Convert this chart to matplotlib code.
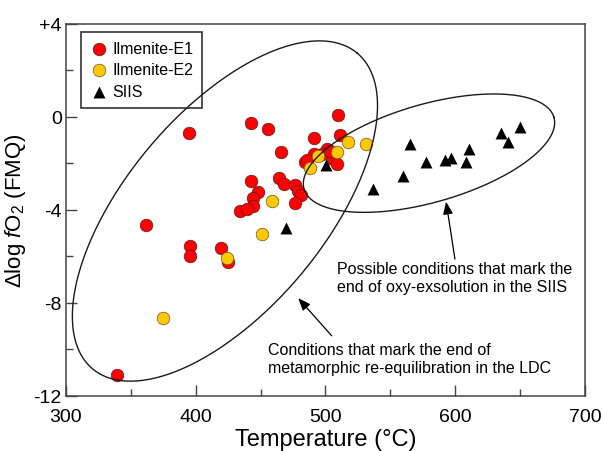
import numpy as np
import matplotlib
matplotlib.use("Agg")
import matplotlib.pyplot as plt
from matplotlib.ticker import MultipleLocator

plt.rcParams['font.family'] = ['Liberation Sans', 'DejaVu Sans']
plt.rcParams['mathtext.fontset'] = 'custom'
plt.rcParams['mathtext.rm'] = 'Liberation Sans'
plt.rcParams['mathtext.it'] = 'Liberation Sans:italic'

# Ilmenite-E1 (red)
e1_temp = [339, 362, 394.5, 395.6, 395.6, 419.7, 424.9, 442.6, 455.4, 465.7,
           491.1, 442.6, 447.7, 443.9, 443.9, 434.1, 439.3, 464.4, 468.0, 476.5,
           479.0, 480.9, 476.5, 484.2, 491.4, 509.9, 511.2, 500.9, 486.0, 506.0,
           508.6, 497.0, 503.5]
e1_fo2 = [-11.1, -4.66, -0.70, -5.55, -5.98, -5.66, -6.24, -0.24, -0.50, -1.50,
          -0.90, -2.77, -3.23, -3.51, -3.85, -4.03, -3.97, -2.65, -2.89, -2.94,
          -3.18, -3.37, -3.71, -1.94, -1.60, 0.09, -0.77, -1.39, -1.85, -1.82,
          -2.03, -1.60, -1.46]

# Ilmenite-E2 (yellow)
e2_temp = [375, 424, 451.3, 458.5, 488, 494, 509.1, 517.6, 531.2]
e2_fo2 = [-8.67, -6.09, -5.05, -3.64, -2.21, -1.68, -1.50, -1.07, -1.17]

# SIIS (triangles)
siis_temp = [469.6, 500.1, 536.8, 560.0, 565.1, 577.2, 592.1, 596.5, 608.0,
             610.6, 635.0, 640.9, 649.9]
siis_fo2 = [-4.76, -2.06, -3.11, -2.56, -1.17, -1.92, -1.85, -1.78, -1.96,
            -1.36, -0.70, -1.06, -0.44]

xticks = [300, 400, 500, 600, 700]
yticks = [4, 0, -4, -8, -12]
ytick_labels = ['+4', '0', '-4', '-8', '-12']

# ellipses: centre (degC, dlog), semi-axes in degC-equivalent, angle on screen
ldc_ell = (422.5, -4.05, 158.8, 76.3, 50.0)
siis_ell = (579.8, -1.56, 100.2, 37.8, 16.0)

fig = plt.figure(figsize=(6.03, 4.52), dpi=100)
ax = fig.add_axes([0.1095, 0.1223, 0.8605, 0.8224])
ax.set_xlim(300, 700)
ax.set_ylim(-12, 4)

ax.scatter(e1_temp, e1_fo2, s=82, c='#ff0000', edgecolors='#5a2020',
           linewidths=0.5, label='Ilmenite-E1', zorder=3)
ax.scatter(e2_temp, e2_fo2, s=82, c='#ffc800', edgecolors='#6a5520',
           linewidths=0.5, label='Ilmenite-E2', zorder=4)
ax.scatter(siis_temp, siis_fo2, s=74, c='black', marker='^', linewidths=0,
           label='SIIS', zorder=5)

# screen aspect: degC per dlog unit
fw, fh = fig.get_size_inches()
pos = ax.get_position()
scale = (400 / (pos.width * fw)) / (16 / (pos.height * fh))


def ellipse_xy(cx, cy, a, b, ang):
    t = np.linspace(0, 2 * np.pi, 500)
    th = np.radians(ang)
    xs = a * np.cos(t) * np.cos(th) - b * np.sin(t) * np.sin(th)
    ys = a * np.cos(t) * np.sin(th) + b * np.sin(t) * np.cos(th)
    return cx + xs, cy + ys / scale


for ell in (ldc_ell, siis_ell):
    ex, ey = ellipse_xy(*ell)
    ax.plot(ex, ey, color='#1a1a1a', lw=1.0, zorder=6)

arrow = dict(arrowstyle='-|>,head_length=0.75,head_width=0.3', color='black',
             lw=0.9, shrinkA=0, shrinkB=0)
ax.annotate('', xy=(593.0, -3.65), xytext=(599.8, -6.12), arrowprops=arrow, zorder=7)
ax.annotate('', xy=(479.0, -7.8), xytext=(504.8, -9.42), arrowprops=arrow, zorder=7)

ax.text(508.9, -6.51, 'Possible conditions that mark the', fontsize=11.5, va='center')
ax.text(508.9, -7.28, 'end of oxy-exsolution in the SIIS', fontsize=11.5, va='center')
ax.text(455.8, -10.0, 'Conditions that mark the end of', fontsize=11.5, va='center')
ax.text(455.8, -10.77, 'metamorphic re-equilibration in the LDC', fontsize=11.5, va='center')

ax.set_xticks(xticks)
ax.set_yticks(yticks)
ax.set_yticklabels(ytick_labels)
ax.xaxis.set_minor_locator(MultipleLocator(50))
ax.yaxis.set_minor_locator(MultipleLocator(2))
ax.tick_params(which='both', direction='in', top=False, right=False,
               color='#444444', width=1.0, labelsize=14)
ax.tick_params(which='major', length=8)
ax.tick_params(which='minor', length=4.7)
ax.tick_params(axis='x', pad=8.5)
ax.tick_params(axis='y', pad=3)
for sp in ax.spines.values():
    sp.set_color('#444444')
    sp.set_linewidth(1.1)

ax.set_xlabel('Temperature (°C)', fontsize=17, labelpad=2.5)
ax.set_ylabel(r'$\Delta$log $f$O$_2$ (FMQ)', fontsize=16, labelpad=4)

leg = ax.legend(loc='upper left', bbox_to_anchor=(0.029, 0.978), borderaxespad=0,
                fontsize=11.5, frameon=True, fancybox=False, framealpha=1,
                edgecolor='#333333', handletextpad=0.2, labelspacing=0.4,
                borderpad=0.55, handlelength=1.2, scatterpoints=1)
leg.get_frame().set_linewidth(1.2)

fig.savefig('out.png', dpi=100)
